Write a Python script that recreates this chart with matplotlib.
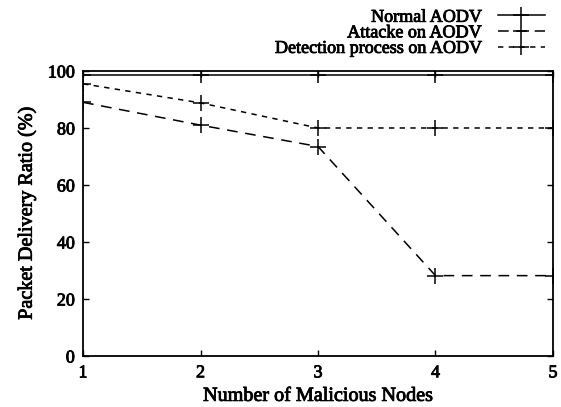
import matplotlib
matplotlib.use("Agg")
import matplotlib.pyplot as plt
import matplotlib.patheffects as pe

nodes = [1, 2, 3, 4, 5]
normal_aodv = [98.5, 98.5, 98.5, 98.5, 98.5]
attack_aodv = [89.0, 81.0, 73.5, 28.2, 28.2]
detection_aodv = [95.5, 88.8, 80.0, 80.0, 80.0]
yticks = [0, 20, 40, 60, 80, 100]

plt.rcParams['font.family'] = ['Liberation Serif', 'DejaVu Serif']
heavy = [pe.withStroke(linewidth=0.6, foreground='black')]

fig = plt.figure(figsize=(5.61, 4.07), dpi=100)
ax = fig.add_axes([0.148, 0.1253, 0.8377, 0.7003])

kw = dict(color='black', lw=1.1, marker='+', markersize=11, markeredgewidth=1.1)
l1, = ax.plot(nodes, normal_aodv, linestyle='-', label='Normal AODV', **kw)
l2, = ax.plot(nodes, attack_aodv, linestyle=(0, (7, 5)), label='Attacke on AODV', **kw)
l3, = ax.plot(nodes, detection_aodv, linestyle=(0, (3.5, 3.5)), label='Detection process on AODV', **kw)

ax.set_xlim(1, 5)
ax.set_ylim(0, 100)
ax.set_xticks(nodes)
ax.set_yticks(yticks)
ax.tick_params(direction='in', top=True, right=True, length=4, width=1, labelsize=13)
for lab in ax.get_xticklabels() + ax.get_yticklabels():
    lab.set_path_effects(heavy)
ax.tick_params(axis='x', pad=6)
ax.tick_params(axis='y', pad=6)
for s in ax.spines.values():
    s.set_linewidth(1.3)

ax.set_xlabel('Number of Malicious Nodes', fontsize=14.5, labelpad=4, path_effects=heavy)
ax.set_ylabel('Packet Delivery Ratio (%)', fontsize=14.5, labelpad=8, path_effects=heavy)

leg = fig.legend(handles=[l1, l2, l3], loc='upper right', bbox_to_anchor=(0.99, 1.005),
                 frameon=False, fontsize=13, markerfirst=False, handlelength=2.6,
                 labelspacing=-0.08, handletextpad=0.9, borderaxespad=0.2)
for t in leg.get_texts():
    t.set_ha('right')
    t.set_path_effects(heavy)
leg._legend_box.align = 'right'

fig.savefig('out.png', dpi=100)
